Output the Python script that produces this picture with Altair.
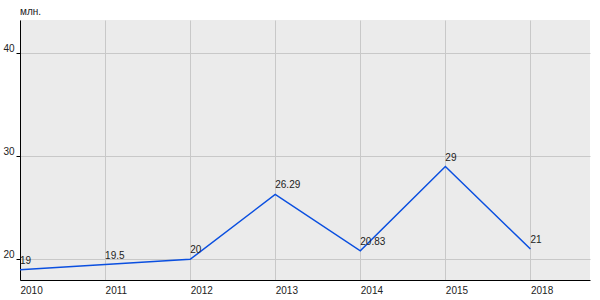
import altair as alt
import pandas as pd

years = ["2010", "2011", "2012", "2013", "2014", "2015", "2018"]
values = [19, 19.5, 20, 26.29, 20.83, 29, 21]
labels = ["19", "19.5", "20", "26.29", "20.83", "29", "21"]

df = pd.DataFrame({"idx": list(range(len(years))), "year": years, "value": values, "label": labels})

font = "Liberation Sans"
fs = 10
x = alt.X("idx:Q", scale=alt.Scale(domain=[0, 6.7], nice=False, zero=False),
          axis=alt.Axis(values=list(range(len(years))),
                        labelExpr="['" + "','".join(years) + "'][datum.value]",
                        title=None, ticks=False, labelAlign="left", labelPadding=5,
                        grid=True, gridColor="#c8c8c8", domainColor="#000000",
                        labelFont=font, labelFontSize=fs, labelColor="#222222",
                        labelFlush=False))
y = alt.Y("value:Q", scale=alt.Scale(domain=[18, 43.2], nice=False, zero=False),
          axis=alt.Axis(values=[20, 30, 40], title=None, tickSize=4, tickColor="#000000",
                        labelBaseline="bottom", labelPadding=2,
                        grid=True, gridColor="#c8c8c8", domainColor="#000000",
                        labelFont=font, labelFontSize=fs, labelColor="#222222"))

base = alt.Chart(df)
line = base.mark_line(color="#0a4fe0", strokeWidth=1.5).encode(x=x, y=y)
text = base.mark_text(align="left", baseline="bottom", dy=-4, font=font, fontSize=fs,
                      color="#222222").encode(x=x, y=y, text="label:N")

chart = (line + text).properties(
    width=570, height=260,
    title=alt.TitleParams("млн.", anchor="start", frame="group", font=font, fontSize=fs,
                          fontWeight="normal", color="#222222", offset=3),
    padding={"left": 20, "top": 20, "right": 10, "bottom": 20},
    autosize=alt.AutoSizeParams(type="none"),
    background="#ffffff",
).configure_view(fill="#ebebeb", stroke=None)

chart.save("out.html", embed_options={"renderer": "svg", "actions": False})
